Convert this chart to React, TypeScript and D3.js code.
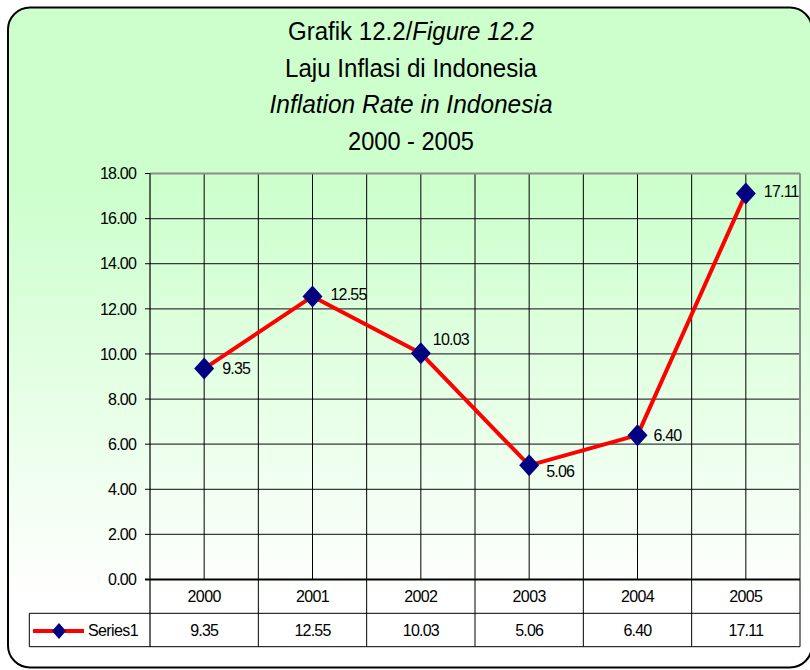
import React from "react";
import * as d3 from "d3";

const years = ["2000", "2001", "2002", "2003", "2004", "2005"];
const inflation = [9.35, 12.55, 10.03, 5.06, 6.4, 17.11];
const yTicks = [0, 2, 4, 6, 8, 10, 12, 14, 16, 18];
const titleLines = [
  { text: "Grafik 12.2/", italic: "Figure 12.2" },
  { text: "Laju Inflasi di Indonesia", italic: "" },
  { text: "", italic: "Inflation Rate in Indonesia" },
  { text: "2000 - 2005", italic: "" },
];
const seriesName = "Series1";
// layout: rendered widths of the condensed title lines and per-label nudges (px)
const titleWidths = [246, 252, 283, 126];
const labelDx = [18, 18, 12, 17, 16, 18];
const labelDy = [0, -2, -14, 6, 0, -2];

const W = 810;
const H = 670;
const L = 150;
const R = 800;
const T = 173.5;
const B = 579.5;
const row1 = 613.3;
const row2 = 646.7;
const tableLeft = 29.3;
const SANS = "'Liberation Sans', Arial, sans-serif";

export default function App() {
  const x = d3.scaleBand<string>().domain(years).range([L, R]).paddingInner(0).paddingOuter(0);
  const y = d3.scaleLinear().domain([0, 18]).range([B, T]);
  const cx = (i: number) => (x(years[i]) as number) + x.bandwidth() / 2;
  const line = d3
    .line<number>()
    .x((_, i) => cx(i))
    .y((d) => y(d));
  const diamond = (r: number, h: number) => `M0,${-h}L${r},0L0,${h}L${-r},0Z`;
  const small = { fontFamily: SANS, fontSize: 16, fill: "#000" } as const;

  return (
    <svg
      width={W}
      height={H}
      viewBox={`0 0 ${W} ${H}`}
      style={{ position: "absolute", left: 0, top: 0, display: "block" }}
    >
      <defs>
        <linearGradient id="bg" x1="0" y1="0" x2="0" y2="1">
          <stop offset="0" stopColor="#ccffcc" />
          <stop offset="0.27" stopColor="#ccffcc" />
          <stop offset="0.9" stopColor="#ffffff" />
          <stop offset="1" stopColor="#ffffff" />
        </linearGradient>
      </defs>
      <rect x={0} y={0} width={W} height={H} fill="#ffffff" />
      <rect
        x={8}
        y={7.5}
        width={804}
        height={660}
        rx={22}
        ry={22}
        fill="url(#bg)"
        stroke="#000"
        strokeWidth={2}
      />
      {/* Title */}
      {titleLines.map((t, i) => (
        <text
          key={i}
          x={411}
          y={40 + i * 36.5}
          textAnchor="middle"
          fontFamily={SANS}
          fontSize={26.5}
          textLength={titleWidths[i]}
          lengthAdjust="spacingAndGlyphs"
          fill="#000"
        >
          {t.text}
          {t.italic && <tspan fontStyle="italic">{t.italic}</tspan>}
        </text>
      ))}
      {/* horizontal gridlines */}
      {yTicks.map((t) => (
        <g key={t}>
          {t > 0 && t < 18 && (
            <line x1={L} x2={R} y1={y(t)} y2={y(t)} stroke="#3a3a3a" strokeWidth={1.3} />
          )}
          <line x1={L - 5} x2={L} y1={y(t)} y2={y(t)} stroke="#000" strokeWidth={1} />
          <text x={136} y={y(t)} dy="0.36em" textAnchor="end" letterSpacing={-0.8} {...small}>
            {t.toFixed(2)}
          </text>
        </g>
      ))}
      {/* vertical gridlines: centers */}
      {years.map((yr, i) => (
        <line key={"c" + yr} x1={cx(i)} x2={cx(i)} y1={T} y2={B} stroke="#000" strokeWidth={1} />
      ))}
      {/* category boundaries through table */}
      {years.slice(1).map((yr) => (
        <line
          key={"b" + yr}
          x1={x(yr) as number}
          x2={x(yr) as number}
          y1={T}
          y2={row2}
          stroke="#000"
          strokeWidth={1}
        />
      ))}
      {/* plot borders */}
      <line x1={L} x2={R} y1={T} y2={T} stroke="#8c8c8c" strokeWidth={2} />
      <line x1={R} x2={R} y1={T} y2={B} stroke="#8c8c8c" strokeWidth={2} />
      <line x1={L} x2={L} y1={T} y2={row2} stroke="#000" strokeWidth={1.2} />
      <line x1={L - 5} x2={R} y1={B} y2={B} stroke="#000" strokeWidth={2} />
      {/* table */}
      <line x1={R} x2={R} y1={B} y2={row2} stroke="#000" strokeWidth={1} />
      <line x1={tableLeft} x2={R} y1={row1} y2={row1} stroke="#000" strokeWidth={1} />
      <line x1={tableLeft} x2={R} y1={row2} y2={row2} stroke="#000" strokeWidth={1} />
      <line x1={tableLeft} x2={tableLeft} y1={row1} y2={row2} stroke="#000" strokeWidth={1} />
      {years.map((yr, i) => (
        <g key={"t" + yr}>
          <text x={cx(i)} y={(B + row1) / 2} dy="0.36em" textAnchor="middle" letterSpacing={-0.6} {...small}>
            {yr}
          </text>
          <text
            x={cx(i)}
            y={(row1 + row2) / 2}
            dy="0.36em"
            textAnchor="middle"
            letterSpacing={-0.8}
            {...small}
          >
            {inflation[i].toFixed(2)}
          </text>
        </g>
      ))}
      {/* legend key */}
      <line x1={33} x2={84} y1={631} y2={631} stroke="#ff0000" strokeWidth={4} />
      <path d={diamond(7, 8)} transform="translate(59,631)" fill="#000080" />
      <text x={88} y={(row1 + row2) / 2} dy="0.36em" letterSpacing={-0.6} {...small}>
        {seriesName}
      </text>
      {/* series */}
      <path d={line(inflation) as string} fill="none" stroke="#ff0000" strokeWidth={4} strokeLinejoin="round" />
      {inflation.map((v, i) => (
        <g key={"p" + i}>
          <path d={diamond(10, 11)} transform={`translate(${cx(i)},${y(v)})`} fill="#000080" />
          <text
            x={cx(i) + labelDx[i]}
            y={y(v) + labelDy[i]}
            dy="0.36em"
            letterSpacing={-0.8}
            {...small}
          >
            {v.toFixed(2)}
          </text>
        </g>
      ))}
    </svg>
  );
}
